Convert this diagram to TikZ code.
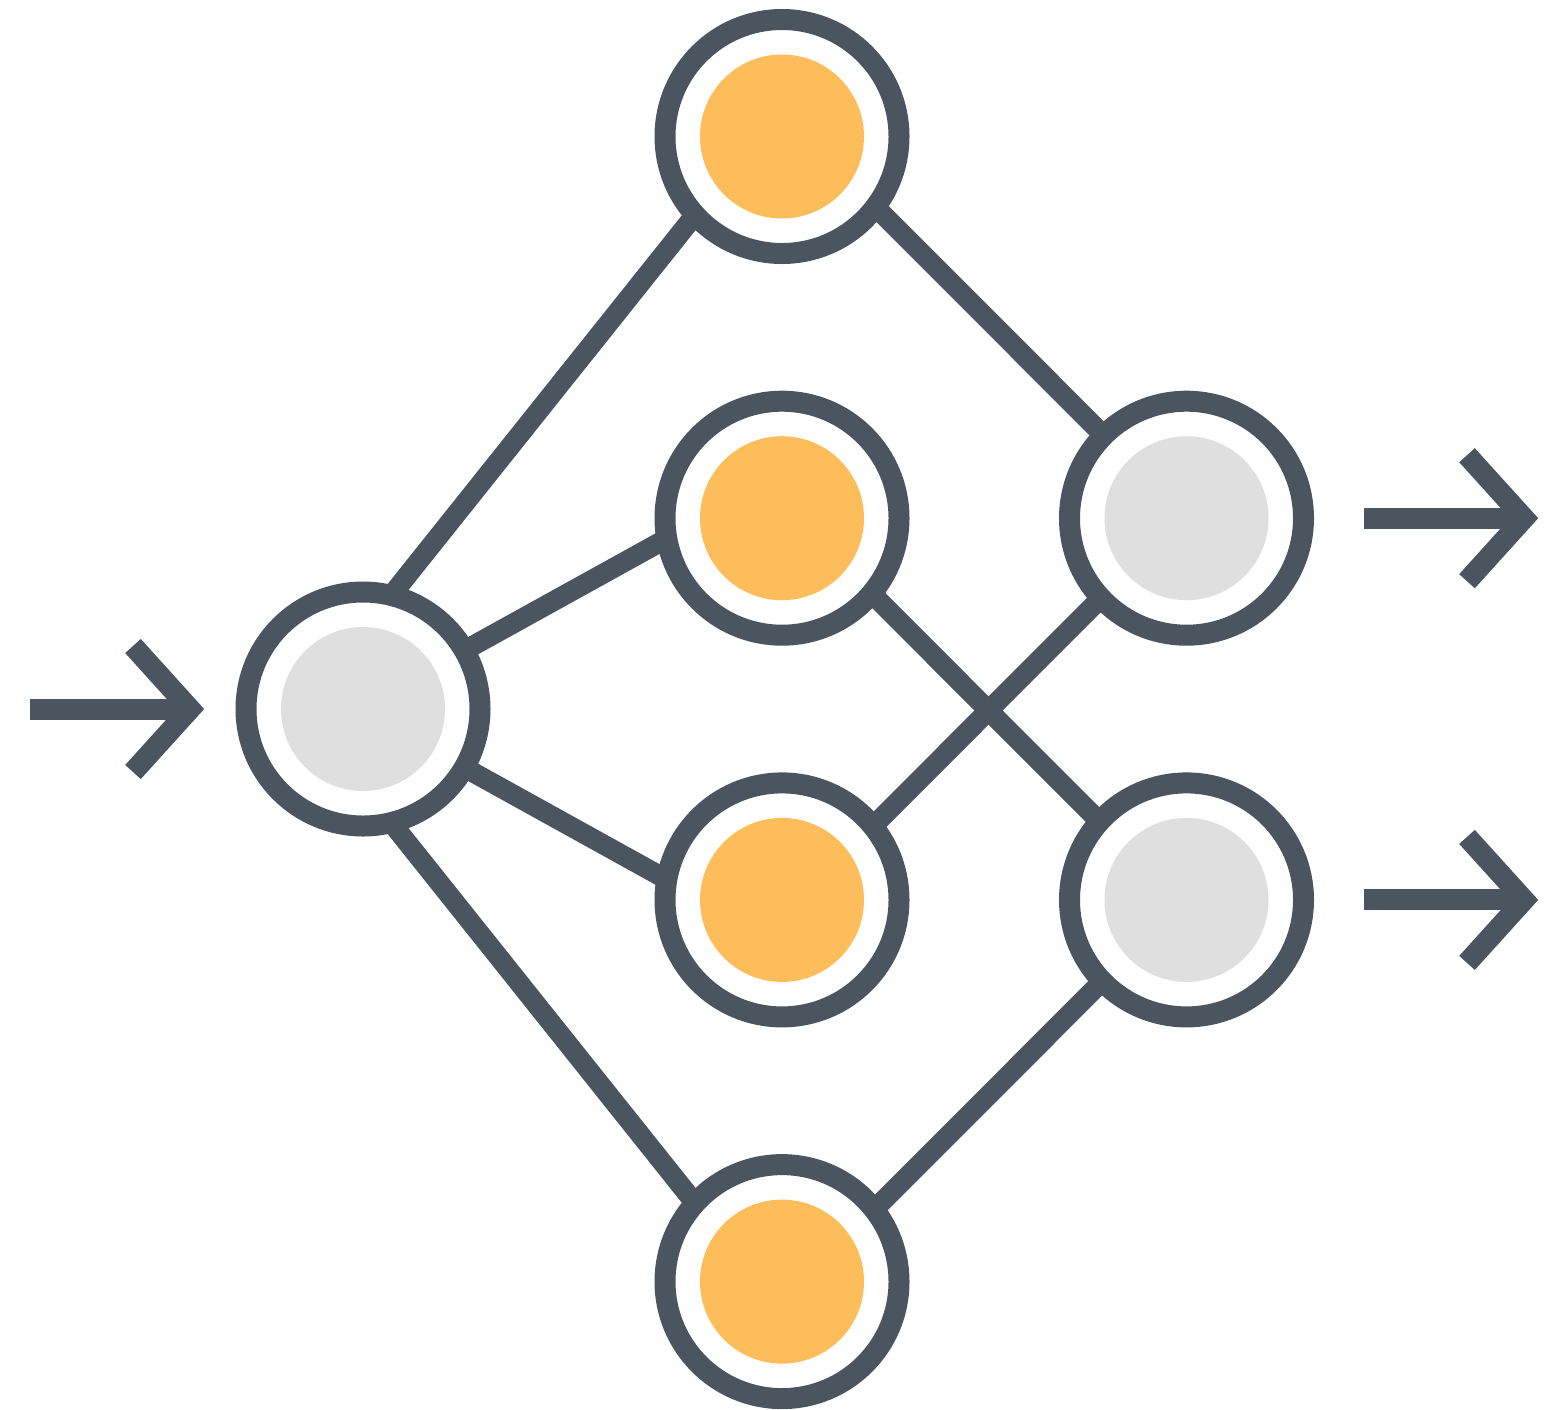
\documentclass[tikz,border=0pt]{standalone}
\usetikzlibrary{calc}
\pgfdeclarelayer{background}
\pgfsetlayers{background,main}
\definecolor{dark}{RGB}{74,85,96}
\definecolor{warm}{RGB}{253,189,90}
\definecolor{pale}{RGB}{223,223,223}
\tikzset{
  unit/.style={circle, minimum size=234pt, inner sep=0pt, outer sep=0pt,
    draw=dark, line width=21pt, fill=white,
    path picture={\fill[#1] (path picture bounding box.center) circle (82pt);}},
  link/.style={draw=dark, line width=20pt, line cap=butt,
    shorten <=-18pt, shorten >=-18pt},
  stem/.style={draw=dark, line width=21pt, line cap=butt},
  chev/.style={draw=dark, line width=21pt, line cap=butt, line join=miter}
}
\begin{document}
\begin{tikzpicture}[x=1pt,y=-1pt]
\useasboundingbox (0,0) rectangle (1549,1409);
\node[unit=pale] (in) at (363,709) {};
\node[unit=warm] (h1) at (782,136.5) {};
\node[unit=warm] (h2) at (782,518.2) {};
\node[unit=warm] (h3) at (782,899.9) {};
\node[unit=warm] (h4) at (782,1281.6) {};
\node[unit=pale] (o1) at (1186.5,518.2) {};
\node[unit=pale] (o2) at (1186.5,899.9) {};
\begin{pgfonlayer}{background}
\draw[link] (in.76) -- (h1.222);
\draw[link] (in.30) -- (h2.190);
\draw[link] (in.-30) -- (h3.170);
\draw[link] (in.-76) -- (h4.138);
\draw[link] (h1.-37) -- (o1.135);
\draw[link] (h2.-40) -- (o2.138);
\draw[link] (h3.39) -- (o1.-137);
\draw[link] (h4.38) -- (o2.-136);
\end{pgfonlayer}
% input arrow
\coordinate (itail) at (30,709);
\coordinate (itip) at (190,709);
\draw[stem] (itail) -- (itip);
\draw[chev] ($(itip)+(-57,-63)$) -- (itip) -- ($(itip)+(-57,63)$);
% output arrows
\coordinate (otail1) at (1364,518.2);
\coordinate (otip1) at (1524,518.2);
\draw[stem] (otail1) -- (otip1);
\draw[chev] ($(otip1)+(-57,-63)$) -- (otip1) -- ($(otip1)+(-57,63)$);
\coordinate (otail2) at (1364,899.9);
\coordinate (otip2) at (1524,899.9);
\draw[stem] (otail2) -- (otip2);
\draw[chev] ($(otip2)+(-57,-63)$) -- (otip2) -- ($(otip2)+(-57,63)$);
\end{tikzpicture}
\end{document}
